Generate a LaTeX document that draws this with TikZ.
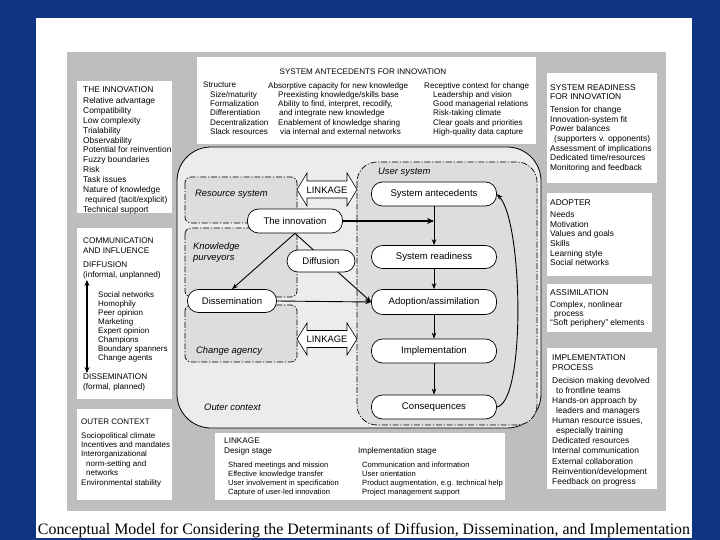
\documentclass[tikz,border=0pt]{standalone}
\usepackage{fontspec}
\usepackage{graphicx}
\setmainfont{Liberation Sans}
\newfontfamily\capfont{Liberation Serif}
\usetikzlibrary{arrows.meta}
\definecolor{bgblue}{RGB}{16,52,130}
\definecolor{panelgray}{RGB}{190,190,190}
\definecolor{outerfill}{RGB}{236,236,236}
\definecolor{boxfill}{RGB}{221,221,221}
\begin{document}
\begin{tikzpicture}[x=1pt,y=-1pt,
  base/.style={inner sep=0pt,anchor=north west,align=left},
  tA/.style={base,font=\fontsize{8.4}{9.9}\selectfont},
  tB/.style={base,font=\fontsize{8.1}{9.3}\selectfont},
  tR/.style={base,font=\fontsize{8.4}{9.6}\selectfont},
  tS/.style={base,font=\fontsize{8.0}{8.9}\selectfont},
  tL/.style={base,font=\fontsize{7.6}{9.0}\selectfont},
  whitebox/.style={fill=white,draw=none},
  proc/.style={draw=black,line width=0.7pt,fill=white,rounded corners=11pt,
    font=\fontsize{9.6}{11}\selectfont,inner sep=0pt},
  lbl/.style={inner sep=0pt,font=\fontsize{9.4}{11}\selectfont\itshape,align=left},
  dd/.style={dash pattern=on 6pt off 1.8pt on 1.2pt off 1.8pt,line width=0.7pt},
  arr/.style={-{Stealth[length=6pt,width=4.5pt]},line width=0.8pt},
  linkarrow/.style={fill=white,draw=black,line width=0.6pt,line join=miter},
  linktext/.style={inner sep=0pt,font=\fontsize{9.4}{11}\selectfont}
]
\useasboundingbox (0,0) rectangle (720,540);
% background
\fill[bgblue] (0,0) rectangle (720,540);
\fill[white] (36,18) rectangle (692,538);
\fill[panelgray] (67,52) rectangle (666,511);
% white text boxes
\fill[whitebox] (77,81) rectangle (172,213);
\fill[whitebox] (197,57) rectangle (536,144);
\fill[whitebox] (547,73) rectangle (657,183);
\fill[whitebox] (547,193) rectangle (652,276);
\fill[whitebox] (547,284) rectangle (652,332);
\fill[whitebox] (547,348) rectangle (657,489);
\fill[whitebox] (77,228) rectangle (172,399);
\fill[whitebox] (77,409) rectangle (172,500);
\fill[whitebox] (215,433) rectangle (505,500);
% outer context
\draw[fill=outerfill,line width=0.8pt,rounded corners=34pt] (177,147) rectangle (541,428);
% inner dash boxes
\draw[dd,fill=boxfill,rounded corners=6pt] (185,177) rectangle (297,223);
\draw[dd,fill=boxfill,rounded corners=6pt] (185,228) rectangle (297,297);
\draw[dd,fill=boxfill,rounded corners=6pt] (185,305) rectangle (297,362);
\draw[dd,fill=boxfill,rounded corners=20pt] (357,162) rectangle (537,425);
% linkage arrows
\draw[linkarrow] (297,189.5) -- (307,173) -- (307,181) -- (347,181) -- (347,173) -- (357,189.5)
  -- (347,206) -- (347,198) -- (307,198) -- (307,206) -- cycle;
\node[linktext] (lk1) at (327,190) {LINKAGE};
\draw[linkarrow] (297,339) -- (307,323) -- (307,330.5) -- (347,330.5) -- (347,323) -- (357,339)
  -- (347,355) -- (347,347.5) -- (307,347.5) -- (307,355) -- cycle;
\node[linktext] (lk2) at (327,339.5) {LINKAGE};
% labels
\node[lbl,anchor=west] (lres) at (195,194) {Resource system};
\node[lbl,anchor=north west] (lkp) at (193,242) {Knowledge\\purveyors};
\node[lbl,anchor=west] (lca) at (196,351) {Change agency};
\node[lbl,anchor=west] (lus) at (378,172) {User system};
\node[lbl,anchor=west] (loc) at (204,407) {Outer context};
% process nodes
\node[proc,minimum width=95pt,minimum height=24pt] (inno) at (295,221) {The innovation};
\node[proc,minimum width=89pt,minimum height=23pt] (dissem) at (232,301) {Dissemination};
\node[proc,minimum width=125pt,minimum height=24pt] (antec) at (434,194) {System antecedents};
\node[proc,minimum width=125pt,minimum height=23pt] (ready) at (434,257) {System readiness};
\node[proc,minimum width=125pt,minimum height=25pt] (adopt) at (434,302) {Adoption/assimilation};
\node[proc,minimum width=125pt,minimum height=24pt] (impl) at (434,351) {Implementation};
\node[proc,minimum width=125pt,minimum height=24pt] (conseq) at (434,407) {Consequences};
% connectors
\draw[arr] (antec) -- (ready);
\draw[arr] (ready) -- (adopt);
\draw[arr] (adopt) -- (impl);
\draw[arr] (impl) -- (conseq);
\draw[-{Stealth[length=7pt,width=6pt]},line width=1.8pt] (inno.east) -- (inno.east -| antec.south);
\draw[arr,line width=0.9pt] (inno.south) -- (dissem.north);
\draw[arr,line width=0.9pt] (inno.south) -- (adopt.west);
\draw[arr,line width=0.9pt] (dissem.east) -- (adopt.west);
\draw[arr,line width=0.9pt] (conseq.east) .. controls (526,402) and (523,222) .. (antec.east);
\node[proc,minimum width=68pt,minimum height=22pt] (diff) at (321,261) {Diffusion};
% texts
\node[tA] (tinno) at (83,86) {THE INNOVATION\\[1.5pt]Relative advantage\\Compatibility\\Low complexity\\Trialability\\Observability\\Potential for reinvention\\Fuzzy boundaries\\Risk\\Task issues\\Nature of knowledge\\\hspace*{2pt}required (tacit/explicit)\\Technical support};
\node[tB,anchor=north] (tsah) at (363,69) {SYSTEM ANTECEDENTS FOR INNOVATION};
\node[tB] (tsa1) at (203,82) {Structure\\\hspace*{7pt}Size/maturity\\\hspace*{7pt}Formalization\\\hspace*{7pt}Differentiation\\\hspace*{7pt}Decentralization\\\hspace*{7pt}Slack resources};
\node[tB] (tsa2) at (268,82) {Absorptive capacity for new knowledge\\\hspace*{10pt}Preexisting knowledge/skills base\\\hspace*{10pt}Ability to find, interpret, recodify,\\\hspace*{11pt}and integrate new knowledge\\\hspace*{10pt}Enablement of knowledge sharing\\\hspace*{12pt}via internal and external networks};
\node[tB] (tsa3) at (424,82) {Receptive context for change\\\hspace*{9pt}Leadership and vision\\\hspace*{9pt}Good managerial relations\\\hspace*{9pt}Risk-taking climate\\\hspace*{9pt}Clear goals and priorities\\\hspace*{9pt}High-quality data capture};
\node[tR] (tready) at (550,84) {SYSTEM READINESS\\FOR INNOVATION\\[3.5pt]Tension for change\\Innovation-system fit\\Power balances\\\hspace*{4pt}(supporters v. opponents)\\Assessment of implications\\Dedicated time/resources\\Monitoring and feedback};
\node[tR] (tadopt) at (550,199) {ADOPTER\\[3pt]Needs\\Motivation\\Values and goals\\Skills\\Learning style\\Social networks};
\node[tR,font=\fontsize{8.4}{9.2}\selectfont] (tassim) at (550,289) {ASSIMILATION\\[3pt]Complex, nonlinear\\\hspace*{4pt}process\\“Soft periphery” elements};
\node[tR,font=\fontsize{8.4}{10.1}\selectfont] (timpl) at (552,354) {IMPLEMENTATION\\PROCESS\\[3pt]Decision making devolved\\\hspace*{4pt}to frontline teams\\Hands-on approach by\\\hspace*{4pt}leaders and managers\\Human resource issues,\\\hspace*{4pt}especially training\\Dedicated resources\\Internal communication\\External collaboration\\Reinvention/development\\Feedback on progress};
\node[tA,font=\fontsize{8.2}{9.8}\selectfont] (tcomm) at (83,238) {COMMUNICATION\\AND INFLUENCE\\[4pt]DIFFUSION\\(informal, unplanned)};
\node[tS] (tlist) at (98,292) {Social networks\\Homophily\\Peer opinion\\Marketing\\Expert opinion\\Champions\\Boundary spanners\\Change agents};
\node[tA,font=\fontsize{8.2}{9.8}\selectfont] (tdiss) at (83,374) {DISSEMINATION\\(formal, planned)};
\coordinate (ctop) at (87,280);
\coordinate (cbot) at (87,373);
\draw[{Stealth[length=6pt,width=5pt]}-{Stealth[length=6pt,width=5pt]},line width=1.5pt] (ctop) -- (cbot);
\node[tS,font=\fontsize{8.0}{9.4}\selectfont] (touter) at (81,419) {OUTER CONTEXT\\[4pt]Sociopolitical climate\\Incentives and mandates\\Interorganizational\\\hspace*{5pt}norm-setting and\\\hspace*{5pt}networks\\Environmental stability};
\node[tB,font=\fontsize{8.2}{9.6}\selectfont] (tlink) at (224,438) {LINKAGE\\Design stage};
\node[tL] (tdes) at (228,461.5) {Shared meetings and mission\\Effective knowledge transfer\\User involvement in specification\\Capture of user-led innovation};
\node[tB,font=\fontsize{8.2}{9.6}\selectfont] (timps) at (358,447.6) {Implementation stage};
\node[tL] (timpl2) at (362,461.5) {Communication and information\\User orientation\\Product augmentation, e.g. technical help\\Project management support};
% caption
\node[inner sep=0pt,anchor=base] (cap) at (364,534) {\resizebox{652pt}{!}{\capfont Conceptual Model for Considering the Determinants of Diffusion, Dissemination, and Implementation}};
\end{tikzpicture}
\end{document}
